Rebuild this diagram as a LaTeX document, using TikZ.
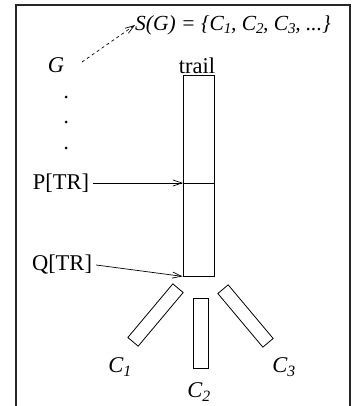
\documentclass[tikz,border=0pt]{standalone}
\usepackage{fontspec}
\setmainfont{Liberation Serif}
\usetikzlibrary{arrows.meta}
\begin{document}
\begin{tikzpicture}[x=1pt,y=-1pt,
  txt/.style={inner sep=0pt,font=\fontsize{22.5}{26}\selectfont},
  box/.style={draw,line width=0.8pt,inner sep=0pt},
  conn/.style={line width=0.7pt,-{Straight Barb[length=9pt,width=6pt]}},
  frameline/.style={line width=1.3pt,black!85}]
\useasboundingbox (0,0) rectangle (353,406);
% frame
\draw[frameline] (16,406) -- (16,5) -- (350,5) -- (350,406);
% trail
\node[box,minimum width=31pt,minimum height=201pt] (trail) at (198.5,175.5) {};
\coordinate (pP) at (183,183);
\coordinate (pR) at (214,183);
\draw[line width=0.8pt] (pP) -- (pR);
\node[txt,anchor=south] (trl) at (197,74) {trail};
% texts
\node[txt] (G) at (56,65) {\itshape G};
\node[txt,anchor=west,font=\fontsize{21.5}{26}\selectfont] (S) at (135,25) {\itshape S(G) = \{C\textsubscript{1}\kern-1pt, C\textsubscript{2}\kern-1pt, C\textsubscript{3}\kern-1pt, ...\}};
\node[txt] (P) at (61,183) {P[TR]};
\node[txt] (Q) at (62,265) {Q[TR]};
% dots
\foreach \yy/\nm in {97/d1,122/d2,148/d3}
  \fill (66,\yy) circle (1.5pt) coordinate (\nm);
% arrows
\coordinate (Gs) at (82,62);
\draw[conn,dashed,dash pattern=on 3pt off 3pt] (Gs) -- (S.west);
\draw[conn] (P.east) ++(4,0) -- (pP);
\draw[conn] (Q.east) ++(4,0) -- (trail.south west);
% C rectangles
\node[box,minimum width=70pt,minimum height=13.5pt,rotate=50] (c1) at (155.5,315) {};
\node[box,minimum width=15pt,minimum height=70pt] (c2) at (200.5,333) {};
\node[box,minimum width=70pt,minimum height=13.5pt,rotate=-50] (c3) at (245.5,316) {};
\node[txt] (l1) at (120,367) {\itshape C\textsubscript{1}};
\node[txt] (l2) at (199,392) {\itshape C\textsubscript{2}};
\node[txt] (l3) at (284,367) {\itshape C\textsubscript{3}};
\end{tikzpicture}
\end{document}
